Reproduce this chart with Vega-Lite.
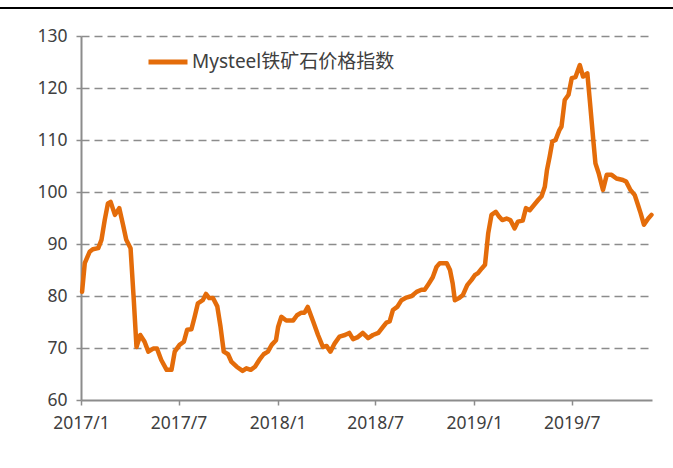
{
  "$schema": "https://vega.github.io/schema/vega-lite/v6.json",
  "width": 571,
  "height": 364,
  "autosize": "none",
  "padding": {"left": 81, "top": 36, "right": 21, "bottom": 68},
  "background": "white",
  "config": {"view": {"stroke": null}, "font": "Noto Sans"},
  "datasets": {
    "index": [
      {"date": "2017-01-03", "value": 80.8},
      {"date": "2017-01-08", "value": 86.3},
      {"date": "2017-01-17", "value": 88.5},
      {"date": "2017-01-23", "value": 89.0},
      {"date": "2017-02-02", "value": 89.2},
      {"date": "2017-02-08", "value": 90.8},
      {"date": "2017-02-14", "value": 94.6},
      {"date": "2017-02-20", "value": 97.8},
      {"date": "2017-02-25", "value": 98.1},
      {"date": "2017-03-05", "value": 95.6},
      {"date": "2017-03-13", "value": 96.9},
      {"date": "2017-03-20", "value": 93.7},
      {"date": "2017-03-26", "value": 90.8},
      {"date": "2017-04-03", "value": 89.2},
      {"date": "2017-04-09", "value": 79.2},
      {"date": "2017-04-14", "value": 70.2},
      {"date": "2017-04-21", "value": 72.5},
      {"date": "2017-04-29", "value": 71.2},
      {"date": "2017-05-06", "value": 69.3},
      {"date": "2017-05-15", "value": 69.9},
      {"date": "2017-05-22", "value": 69.9},
      {"date": "2017-05-30", "value": 67.7},
      {"date": "2017-06-09", "value": 65.8},
      {"date": "2017-06-18", "value": 65.8},
      {"date": "2017-06-24", "value": 69.3},
      {"date": "2017-07-03", "value": 70.6},
      {"date": "2017-07-11", "value": 71.2},
      {"date": "2017-07-17", "value": 73.5},
      {"date": "2017-07-25", "value": 73.6},
      {"date": "2017-07-31", "value": 76.0},
      {"date": "2017-08-06", "value": 78.6},
      {"date": "2017-08-15", "value": 79.2},
      {"date": "2017-08-21", "value": 80.4},
      {"date": "2017-08-27", "value": 79.6},
      {"date": "2017-09-03", "value": 79.6},
      {"date": "2017-09-11", "value": 78.0},
      {"date": "2017-09-17", "value": 74.1},
      {"date": "2017-09-23", "value": 69.3},
      {"date": "2017-10-01", "value": 68.8},
      {"date": "2017-10-07", "value": 67.4},
      {"date": "2017-10-17", "value": 66.4},
      {"date": "2017-10-28", "value": 65.6},
      {"date": "2017-11-04", "value": 66.1},
      {"date": "2017-11-12", "value": 65.8},
      {"date": "2017-11-20", "value": 66.4},
      {"date": "2017-11-28", "value": 67.7},
      {"date": "2017-12-06", "value": 68.8},
      {"date": "2017-12-14", "value": 69.3},
      {"date": "2017-12-21", "value": 70.6},
      {"date": "2017-12-29", "value": 71.5},
      {"date": "2018-01-02", "value": 74.1},
      {"date": "2018-01-08", "value": 76.0},
      {"date": "2018-01-17", "value": 75.3},
      {"date": "2018-01-30", "value": 75.3},
      {"date": "2018-02-06", "value": 76.3},
      {"date": "2018-02-14", "value": 76.8},
      {"date": "2018-02-20", "value": 76.8},
      {"date": "2018-02-26", "value": 77.9},
      {"date": "2018-03-08", "value": 75.1},
      {"date": "2018-03-17", "value": 72.5},
      {"date": "2018-03-26", "value": 70.2},
      {"date": "2018-04-02", "value": 70.4},
      {"date": "2018-04-09", "value": 69.3},
      {"date": "2018-04-17", "value": 70.9},
      {"date": "2018-04-26", "value": 72.2},
      {"date": "2018-05-06", "value": 72.5},
      {"date": "2018-05-14", "value": 72.9},
      {"date": "2018-05-21", "value": 71.7},
      {"date": "2018-05-30", "value": 72.1},
      {"date": "2018-06-08", "value": 72.9},
      {"date": "2018-06-18", "value": 71.9},
      {"date": "2018-06-27", "value": 72.5},
      {"date": "2018-07-07", "value": 72.9},
      {"date": "2018-07-16", "value": 74.1},
      {"date": "2018-07-22", "value": 74.9},
      {"date": "2018-07-28", "value": 75.1},
      {"date": "2018-08-03", "value": 77.3},
      {"date": "2018-08-11", "value": 77.9},
      {"date": "2018-08-19", "value": 79.2},
      {"date": "2018-08-28", "value": 79.7},
      {"date": "2018-09-07", "value": 80.0},
      {"date": "2018-09-16", "value": 80.8},
      {"date": "2018-09-25", "value": 81.2},
      {"date": "2018-10-01", "value": 81.2},
      {"date": "2018-10-07", "value": 82.1},
      {"date": "2018-10-16", "value": 83.6},
      {"date": "2018-10-23", "value": 85.6},
      {"date": "2018-10-29", "value": 86.3},
      {"date": "2018-11-11", "value": 86.3},
      {"date": "2018-11-17", "value": 85.0},
      {"date": "2018-11-22", "value": 82.4},
      {"date": "2018-11-26", "value": 79.2},
      {"date": "2018-12-04", "value": 79.6},
      {"date": "2018-12-11", "value": 80.2},
      {"date": "2018-12-19", "value": 82.1},
      {"date": "2018-12-27", "value": 83.1},
      {"date": "2019-01-02", "value": 84.0},
      {"date": "2019-01-08", "value": 84.4},
      {"date": "2019-01-15", "value": 85.3},
      {"date": "2019-01-21", "value": 86.0},
      {"date": "2019-01-27", "value": 92.1},
      {"date": "2019-02-02", "value": 95.6},
      {"date": "2019-02-10", "value": 96.2},
      {"date": "2019-02-16", "value": 95.3},
      {"date": "2019-02-22", "value": 94.6},
      {"date": "2019-03-02", "value": 94.9},
      {"date": "2019-03-09", "value": 94.6},
      {"date": "2019-03-17", "value": 93.0},
      {"date": "2019-03-23", "value": 94.3},
      {"date": "2019-04-01", "value": 94.5},
      {"date": "2019-04-07", "value": 96.9},
      {"date": "2019-04-14", "value": 96.5},
      {"date": "2019-04-22", "value": 97.5},
      {"date": "2019-04-30", "value": 98.5},
      {"date": "2019-05-06", "value": 99.2},
      {"date": "2019-05-12", "value": 101.0},
      {"date": "2019-05-16", "value": 104.2},
      {"date": "2019-05-21", "value": 106.8},
      {"date": "2019-05-26", "value": 109.7},
      {"date": "2019-06-01", "value": 110.0},
      {"date": "2019-06-08", "value": 111.9},
      {"date": "2019-06-12", "value": 112.6},
      {"date": "2019-06-18", "value": 117.7},
      {"date": "2019-06-25", "value": 118.7},
      {"date": "2019-07-01", "value": 121.9},
      {"date": "2019-07-08", "value": 122.1},
      {"date": "2019-07-16", "value": 124.4},
      {"date": "2019-07-22", "value": 122.2},
      {"date": "2019-07-30", "value": 122.8},
      {"date": "2019-08-04", "value": 117.1},
      {"date": "2019-08-10", "value": 110.0},
      {"date": "2019-08-14", "value": 105.5},
      {"date": "2019-08-20", "value": 103.6},
      {"date": "2019-08-28", "value": 100.4},
      {"date": "2019-09-04", "value": 103.3},
      {"date": "2019-09-13", "value": 103.3},
      {"date": "2019-09-22", "value": 102.6},
      {"date": "2019-10-04", "value": 102.3},
      {"date": "2019-10-10", "value": 102.0},
      {"date": "2019-10-18", "value": 100.4},
      {"date": "2019-10-26", "value": 99.4},
      {"date": "2019-11-01", "value": 97.5},
      {"date": "2019-11-06", "value": 95.9},
      {"date": "2019-11-12", "value": 93.7},
      {"date": "2019-11-20", "value": 94.9},
      {"date": "2019-11-26", "value": 95.6}
    ],
    "border": [
      {"start": "2016-08-01", "end": "2020-01-12", "level": 135.4}
    ]
  },
  "layer": [
    {
      "data": {"name": "border"},
      "mark": {"type": "rule", "color": "#000000", "strokeWidth": 2, "clip": false},
      "encoding": {
        "x": {"field": "start", "type": "temporal", "title": null,
              "scale": {"type": "utc", "domain": [{"year": 2017, "month": 1, "date": 1, "utc": true}, {"year": 2019, "month": 11, "date": 27, "utc": true}]}},
        "x2": {"field": "end"},
        "y": {"field": "level", "type": "quantitative", "title": null,
              "scale": {"domain": [60, 130], "nice": false, "zero": false}}
      }
    },
    {
      "data": {"name": "index"},
      "mark": {"type": "line", "strokeWidth": 4.5, "strokeJoin": "round", "strokeCap": "round"},
      "encoding": {
        "x": {
          "field": "date", "type": "temporal", "title": null,
          "scale": {"type": "utc", "domain": [{"year": 2017, "month": 1, "date": 1, "utc": true}, {"year": 2019, "month": 11, "date": 27, "utc": true}]},
          "axis": {
            "values": [
              {"year": 2017, "month": 1, "date": 1, "utc": true},
              {"year": 2017, "month": 7, "date": 1, "utc": true},
              {"year": 2018, "month": 1, "date": 1, "utc": true},
              {"year": 2018, "month": 7, "date": 1, "utc": true},
              {"year": 2019, "month": 1, "date": 1, "utc": true},
              {"year": 2019, "month": 7, "date": 1, "utc": true}
            ],
            "format": "%Y/%-m",
            "grid": false,
            "domainColor": "#8c8c8c", "domainWidth": 2,
            "tickColor": "#8c8c8c", "tickWidth": 1.5, "tickSize": 5,
            "labelFont": "Noto Sans", "labelFontSize": 17.5, "labelColor": "#404040",
            "labelPadding": 9, "labelFlush": false, "labelOverlap": false
          }
        },
        "y": {
          "field": "value", "type": "quantitative", "title": null,
          "scale": {"domain": [60, 130], "nice": false, "zero": false},
          "axis": {
            "values": [60, 70, 80, 90, 100, 110, 120, 130],
            "grid": true,
            "gridColor": "#8c8c8c", "gridDash": [8, 5], "gridWidth": 1.5,
            "gridOpacity": {"condition": {"test": "datum.value === 60", "value": 0}, "value": 1},
            "domainColor": "#8c8c8c", "domainWidth": 2,
            "tickColor": "#8c8c8c", "tickWidth": 1.5, "tickSize": 5,
            "labelFont": "Noto Sans", "labelFontSize": 17.5, "labelColor": "#404040",
            "labelPadding": 9, "labelFlush": false, "labelOverlap": false
          }
        },
        "color": {
          "datum": "Mysteel铁矿石价格指数",
          "scale": {"range": ["#E46C0A"]},
          "legend": {
            "title": null,
            "orient": "none",
            "legendX": 65,
            "legendY": 4,
            "symbolType": "stroke",
            "symbolSize": 1521,
            "symbolStrokeWidth": 5,
            "labelFont": "Noto Sans, Noto Sans CJK SC",
            "labelFontSize": 19,
            "labelColor": "#404040",
            "labelOffset": 2,
            "labelLimit": 0,
            "padding": 0
          }
        }
      }
    }
  ]
}
